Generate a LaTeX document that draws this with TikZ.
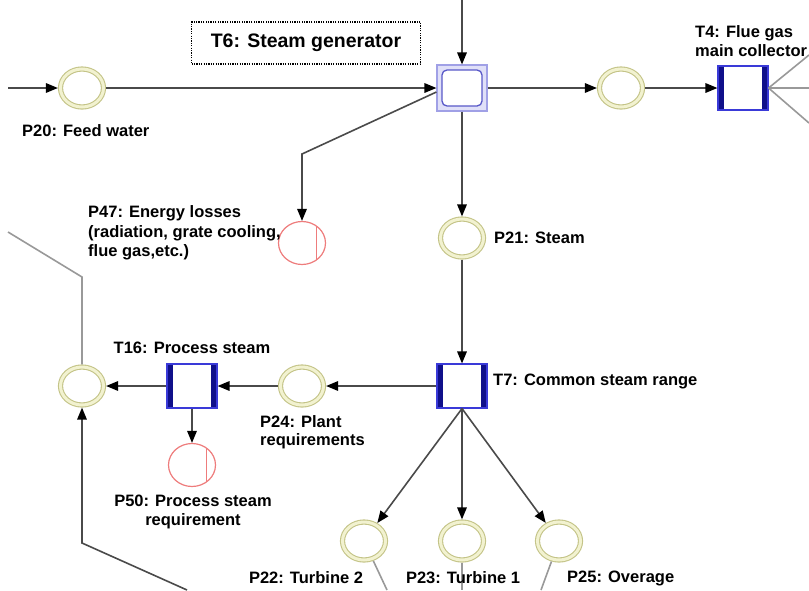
\documentclass[tikz,border=0pt]{standalone}
\usepackage{fontspec}
\setmainfont{Liberation Sans}
\usetikzlibrary{arrows.meta,shapes.geometric,calc}
\definecolor{placering}{HTML}{C4C488}
\definecolor{placefill}{HTML}{F2F2D0}
\definecolor{lossred}{HTML}{EE7C7C}
\definecolor{trborder}{HTML}{3A3AD8}
\definecolor{trbar}{HTML}{10108A}
\definecolor{genouter}{HTML}{A0A0E6}
\definecolor{genfill}{HTML}{E0E0F8}
\definecolor{geninner}{HTML}{5858C8}
\definecolor{linedark}{HTML}{4A4A4A}
\definecolor{linelight}{HTML}{999999}

\begin{document}
\begin{tikzpicture}[x=1pt,y=-1pt,
  place/.style={ellipse, minimum width=43pt, minimum height=38pt, inner sep=0pt,
    draw=placering, double=placefill, double distance=3pt, line width=1.1pt, outer sep=2.6pt},
  lossplace/.style={ellipse, minimum width=47pt, minimum height=43pt, inner sep=0pt,
    draw=lossred, fill=white, line width=1.2pt,
    path picture={\draw[lossred, line width=1.2pt]
      ([xshift=-9pt]path picture bounding box.north east) --
      ([xshift=-9pt]path picture bounding box.south east);}},
  trans/.style={rectangle, minimum width=50pt, minimum height=44pt, inner sep=0pt,
    draw=trborder, fill=white, line width=1.1pt,
    path picture={
      \fill[trbar] (path picture bounding box.south west) rectangle
        ([xshift=6pt]path picture bounding box.north west);
      \fill[trbar] (path picture bounding box.north east) rectangle
        ([xshift=-6pt]path picture bounding box.south east);}},
  gen/.style={rectangle, minimum width=50pt, minimum height=46pt, inner sep=0pt,
    draw=genouter, fill=genfill, line width=1.1pt,
    path picture={\draw[geninner, line width=1.3pt, fill=white, rounded corners=5pt]
      ([shift={(5pt,5pt)}]path picture bounding box.south west) rectangle
      ([shift={(-5pt,-5pt)}]path picture bounding box.north east);}},
  arr/.style={draw=linedark, line width=1.6pt, -{Triangle[length=12pt,width=9.5pt,color=black]}},
  plain/.style={draw=linelight, line width=1.6pt},
  lbl/.style={font=\fontsize{16.5}{18.5}\selectfont\bfseries, inner sep=0pt, text=black},
  titlebox/.style={draw=black, line width=1.2pt, dash pattern=on 1.2pt off 1.2pt,
    minimum width=229pt, minimum height=42pt, inner sep=0pt,
    font=\fontsize{19.5}{22}\selectfont\bfseries}
]
\useasboundingbox (0,0) rectangle (809,590);

% places and transitions
\node[place] (p20) at (82,88) {};
\node[gen] (t6) at (462,88) {};
\node[place] (pflue) at (621,88) {};
\node[trans] (t4) at (743,88) {};
\node[lossplace] (p47) at (302,243) {};
\node[place] (p21) at (462,238) {};
\node[place] (pleft) at (82,386) {};
\node[trans] (t16) at (192,386) {};
\node[place] (p24) at (302,386) {};
\node[trans] (t7) at (462,386) {};
\node[lossplace] (p50) at (192,465) {};
\node[place] (p22) at (364,541) {};
\node[place] (p23) at (462,541) {};
\node[place] (p25) at (559,541) {};

% loose ends and bends
\coordinate (in20) at (8,88);
\coordinate (top6) at (462,0);
\coordinate (bend47) at (302,154);
\coordinate (t4up) at (809,55);
\coordinate (t4mid) at (809,88);
\coordinate (t4down) at (809,123);
\coordinate (leftbend) at (82,277);
\coordinate (leftend) at (8,232);
\coordinate (lowbend) at (82,543);
\coordinate (lowend) at (187,590);
\coordinate (end22) at (387,590);
\coordinate (end23) at (462,590);
\coordinate (end25) at (541,590);

% connectors
\draw[arr] (in20) -- (p20);
\draw[arr] (p20) -- (t6);
\draw[arr] (top6) -- (t6);
\draw[arr] (t6) -- (pflue);
\draw[arr] (pflue) -- (t4);
\draw[arr] ([yshift=-4pt]t6.west) -- (bend47) -- (p47);
\draw[arr] (t6) -- (p21);
\draw[plain] (t4.east) -- (t4up);
\draw[plain] (t4.east) -- (t4mid);
\draw[plain] (t4.east) -- (t4down);
\draw[arr] (p21) -- (t7);
\draw[arr] (t7) -- (p24);
\draw[arr] (p24) -- (t16);
\draw[arr] (t16) -- (pleft);
\draw[arr] (t16) -- (p50);
\draw[plain] (pleft) -- (leftbend) -- (leftend);
\draw[arr] (lowend) -- (lowbend) -- (pleft);
\draw[arr] (t7.south) -- (p22);
\draw[arr] (t7.south) -- (p23);
\draw[arr] (t7.south) -- (p25);
\draw[plain] (p22) -- (end22);
\draw[plain] (p23) -- (end23);
\draw[plain] (p25) -- (end25);

% labels
\node[titlebox] (ttl) at (306,43) {T6: Steam generator};
\node[lbl, anchor=west] (l20) at (22,131) {P20: Feed water};
\node[lbl, anchor=west, align=left] (l4) at (695,41) {T4: Flue gas\\main collector};
\node[lbl, anchor=west, align=left, font=\fontsize{16.5}{19.5}\selectfont\bfseries] (l47) at (88,233)
  {P47: Energy losses\\(radiation, grate cooling,\\flue gas,etc.)};
\node[lbl, anchor=west] (l21) at (494,238) {P21: Steam};
\node[lbl] (l16) at (192,348) {T16: Process steam};
\node[lbl, anchor=west] (l7) at (493,381) {T7: Common steam range};
\node[lbl, anchor=west, align=left] (l24) at (260,432) {P24: Plant\\requirements};
\node[lbl, align=center] (l50) at (193,512) {P50: Process steam\\requirement};
\node[lbl] (l22) at (306,578) {P22: Turbine 2};
\node[lbl] (l23) at (463,578) {P23: Turbine 1};
\node[lbl, anchor=west] (l25) at (567,578) {P25: Overage};
\end{tikzpicture}
\end{document}
